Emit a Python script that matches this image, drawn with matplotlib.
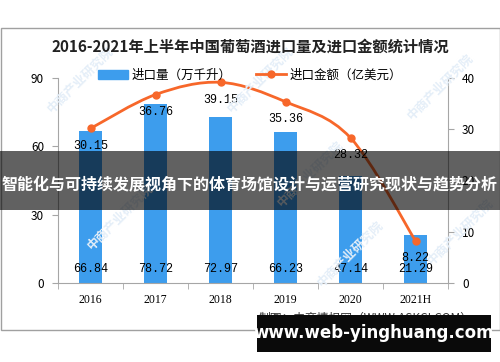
import matplotlib
matplotlib.use('Agg')
import matplotlib.pyplot as plt
from matplotlib.path import Path
from matplotlib.patches import PathPatch, Rectangle
from matplotlib.lines import Line2D
import numpy as np

# data
years = ['2016', '2017', '2018', '2019', '2020', '2021H']
volume = [66.84, 78.72, 72.97, 66.23, 47.14, 21.29]      # 万千升
amount = [30.15, 36.76, 39.15, 35.36, 28.32, 8.22]       # 亿美元

title = '2016-2021年上半年中国葡萄酒进口量及进口金额统计情况'
banner = '智能化与可持续发展视角下的体育场馆设计与运营研究现状与趋势分析'
source = '制图：中商情报网（WWW.ASKCI.COM）'
site = 'www.web-yinghuang.com'

cjk = ['Noto Sans CJK SC', 'DejaVu Sans']
plt.rcParams['font.family'] = cjk

blue = '#3d9ded'
orange = '#f7672a'
grey = '#a6a6a6'


def smooth_path(xs, ys):
    # bezier segments through the points (catmull-rom style tangents)
    xs = np.asarray(xs, float)
    ys = np.asarray(ys, float)
    n = len(xs)
    verts = [(xs[0], ys[0])]
    codes = [Path.MOVETO]
    for i in range(n - 1):
        p0 = (xs[max(i - 1, 0)], ys[max(i - 1, 0)])
        p1 = (xs[i], ys[i])
        p2 = (xs[i + 1], ys[i + 1])
        p3 = (xs[min(i + 2, n - 1)], ys[min(i + 2, n - 1)])
        c1 = (p1[0] + (p2[0] - p0[0]) / 6, p1[1] + (p2[1] - p0[1]) / 6)
        c2 = (p2[0] - (p3[0] - p1[0]) / 6, p2[1] - (p3[1] - p1[1]) / 6)
        verts += [c1, c2, p2]
        codes += [Path.CURVE4] * 3
    return Path(verts, codes)


fig = plt.figure(figsize=(5, 3.62), dpi=100)
fig.patch.set_facecolor('white')

# outer frame
fig.add_artist(Rectangle((1 / 500, 1 - 330 / 362), 499 / 500, 302 / 362,
                         transform=fig.transFigure, fill=False,
                         edgecolor='#a0a0a0', lw=1, zorder=0))

# faint watermarks
for wx, wy in [(0.16, 0.78), (0.52, 0.78), (0.88, 0.76), (0.62, 0.52),
               (0.24, 0.40), (0.70, 0.30), (0.92, 0.36)]:
    fig.text(wx, wy, '中商产业研究院', rotation=45, color='#e4eef8', fontsize=9,
             fontweight='bold', ha='center', va='center', zorder=0)

ax = fig.add_axes([58 / 500, 1 - 283 / 362, 390 / 500, 205 / 362])
ax.patch.set_alpha(0)
x = np.arange(len(years))

ax.bar(x, volume, width=0.36, color=blue, zorder=2)
ax.set_xlim(-0.5, len(years) - 0.5)
ax.set_ylim(0, 90)
ax.set_yticks([0, 30, 60, 90])
ax.set_xticks(x)
ax.set_xticklabels(years, family='Liberation Serif', fontsize=8.5)
ax.set_xticks(np.arange(-0.5, len(years)), minor=True)
ax.tick_params(axis='x', which='major', length=0, pad=8)
ax.tick_params(axis='x', which='minor', length=4, color=grey)
ax.tick_params(axis='y', length=4, color=grey, labelsize=8.5, pad=6)
for s in ['top', 'right']:
    ax.spines[s].set_visible(False)
for s in ['left', 'bottom']:
    ax.spines[s].set_color(grey)

for xi, v in zip(x, volume):
    ax.annotate(f'{v:.2f}', (xi, 0), xytext=(0, 10), textcoords='offset points',
                ha='center', va='center', fontsize=8.5, family='Liberation Mono', zorder=5)

ax2 = ax.twinx()
ax2.set_ylim(0, 40)
ax2.set_yticks([0, 10, 20, 30, 40])
ax2.tick_params(axis='y', length=4, color=grey, labelsize=8.5, pad=6)
for s in ['top', 'left', 'bottom']:
    ax2.spines[s].set_visible(False)
ax2.spines['right'].set_color(grey)

ax2.add_patch(PathPatch(smooth_path(x, amount), fill=False, edgecolor=orange,
                        lw=2, zorder=3))
ax2.plot(x, amount, 'o', color=orange, ms=5, zorder=4)
for xi, v in zip(x, amount):
    ax2.annotate(f'{v:.2f}', (xi, v), xytext=(0, -12.5), textcoords='offset points',
                 ha='center', va='center', fontsize=8.5, family='Liberation Mono', zorder=5)

# title and legend
fig.text(0.5, 1 - 47 / 362, title, ha='center', va='center', fontsize=11,
         fontweight='bold', color='#222222')
handles = [Rectangle((0, 0), 1, 1, color=blue),
           Line2D([], [], color=orange, lw=2, marker='o', ms=5)]
fig.legend(handles, ['进口量（万千升）', '进口金额（亿美元）'], loc='center',
           bbox_to_anchor=(0.5, 1 - 75 / 362), ncol=2, frameon=False, fontsize=9,
           handlelength=2.4, columnspacing=2.0, handletextpad=0.3)

fig.text(473 / 500, 1 - 318 / 362, source, ha='right', va='center', fontsize=8.5,
         color='#333333')

# overlays
fig.add_artist(Rectangle((0, 1 - 210 / 362), 1, 59 / 362, transform=fig.transFigure,
                         color='black', alpha=0.62, lw=0, zorder=10))
fig.text(0.5, 1 - 184 / 362, banner, ha='center', va='center', fontsize=11.5,
         fontweight='bold', color='white', zorder=11)
fig.add_artist(Rectangle((257 / 500, 1 - 352 / 362), 234 / 500, 37 / 362,
                         transform=fig.transFigure, color='#0a0a0a', lw=0, zorder=10))
fig.text(374 / 500, 1 - 333 / 362, site, ha='center', va='center', fontsize=12,
         fontweight='bold', color='white', family='DejaVu Sans', zorder=11)

fig.savefig('out.png', dpi=100)
